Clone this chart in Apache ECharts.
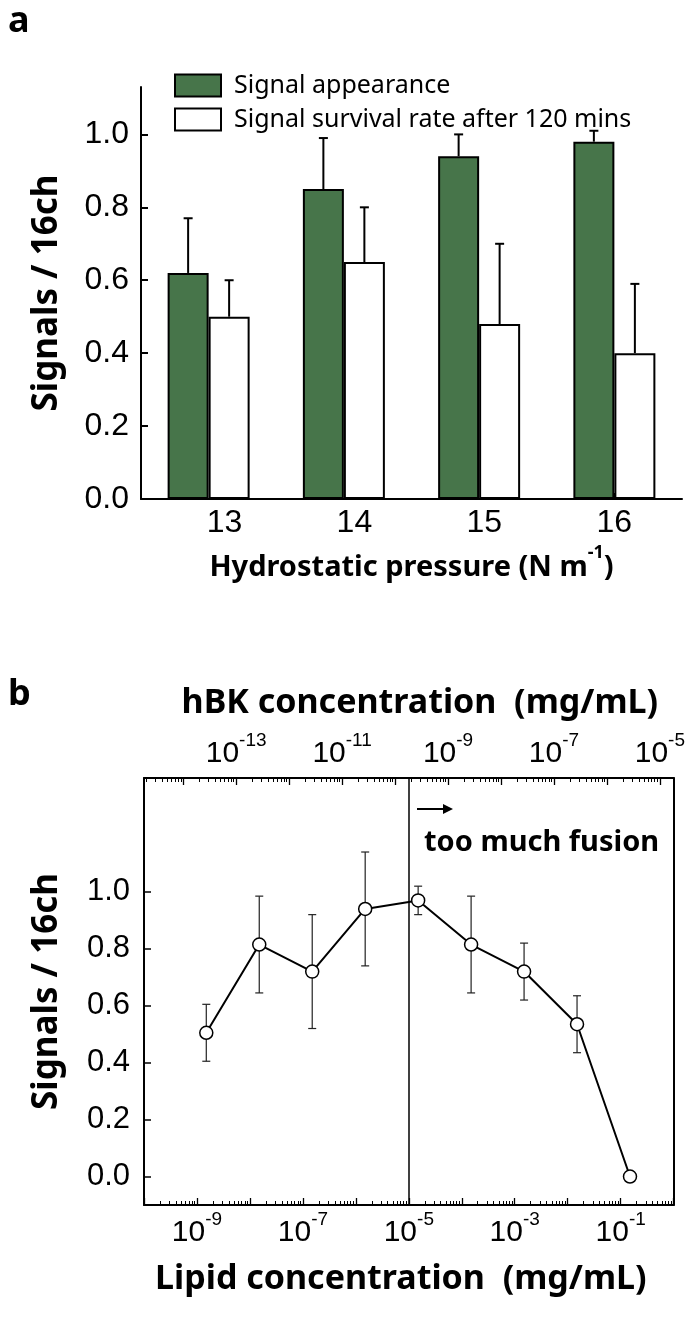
<!DOCTYPE html>
<html><head><meta charset="utf-8">
<script src="https://cdn.jsdelivr.net/npm/echarts@6/dist/echarts.min.js"></script>
<style>html,body{margin:0;padding:0;background:#fff}#c{width:688px;height:1318px}</style>
</head><body><div id="c"></div>
<script>
// ---------- Panel a data ----------
const pressures = ['13', '14', '15', '16'];
const pressureTicks = [13, 14, 15, 16];
const appearance = [0.62, 0.85, 0.94, 0.98];
const appearanceErr = [0.15, 0.14, 0.06, 0.03];
const survival = [0.50, 0.65, 0.48, 0.40];
const survivalErr = [0.10, 0.15, 0.22, 0.19];
const signalTicks = [0, 0.2, 0.4, 0.6, 0.8, 1.0];

// ---------- Panel b data ----------
const lipidConc = [1.5e-9, 1.5e-8, 1.5e-7, 1.5e-6, 1.5e-5, 1.5e-4, 1.5e-3, 1.5e-2, 1.5e-1];
const lipidSignals = [0.505, 0.815, 0.72, 0.94, 0.97, 0.815, 0.72, 0.535, 0.0];
const lipidErr = [0.10, 0.17, 0.20, 0.20, 0.05, 0.17, 0.10, 0.10, 0];
const lipidMajorExp = [-10, -9, -8, -7, -6, -5, -4, -3, -2, -1, 0];
const lipidLabelExp = [-9, -7, -5, -3, -1];
const hbkMajorExp = [-14, -13, -12, -11, -10, -9, -8, -7, -6, -5];
const hbkLabelExp = [-13, -11, -9, -7, -5];
const fusionLimit = 1e-5;
const lipidRange = [-10, 0];          // log10 mg/mL
const hbkRange = [-14.74, -4.74];     // log10 mg/mL

function minorLogTicks(lo, hi) {
  const out = [];
  for (let n = Math.floor(lo); n < Math.ceil(hi); n++) {
    for (let k = 2; k <= 9; k++) {
      const v = n + Math.log10(k);
      if (v > lo && v < hi) out.push(v);
    }
  }
  return out;
}

const TICKFONT = 'Liberation Sans, Arial, sans-serif';
const TITLEFONT = 'Noto Sans, Open Sans, sans-serif';
const BLACK = '#000';
const GREEN = '#47754a';

const supRich = {
  b: { fontSize: 30, fontFamily: TICKFONT, color: BLACK, lineHeight: 38, verticalAlign: 'bottom' },
  s: { fontSize: 19, fontFamily: TICKFONT, color: BLACK, lineHeight: 19, verticalAlign: 'top' }
};
const powLabel = v => '{b|10}{s|' + Math.round(v) + '}';

function errBarsA(offset) {
  return function (params, api) {
    const i = api.value(0), v = api.value(1), e = api.value(2);
    const p0 = api.coord([i, v]);
    const p1 = api.coord([i, v + e]);
    const x = p0[0] + offset;
    return {
      type: 'group',
      children: [
        { type: 'line', shape: { x1: x, y1: p0[1], x2: x, y2: p1[1] }, style: { stroke: BLACK, lineWidth: 2 } },
        { type: 'line', shape: { x1: x - 4.5, y1: p1[1], x2: x + 4.5, y2: p1[1] }, style: { stroke: BLACK, lineWidth: 2 } }
      ]
    };
  };
}

function errBarsB(params, api) {
  const x = api.value(0), y = api.value(1), e = api.value(2);
  if (!e) return null;
  const t = api.coord([x, y + e]);
  const b = api.coord([x, y - e]);
  const st = { stroke: '#222', lineWidth: 1.2 };
  return {
    type: 'group',
    children: [
      { type: 'line', shape: { x1: t[0], y1: t[1], x2: b[0], y2: b[1] }, style: st },
      { type: 'line', shape: { x1: t[0] - 4, y1: t[1], x2: t[0] + 4, y2: t[1] }, style: st },
      { type: 'line', shape: { x1: b[0] - 4, y1: b[1], x2: b[0] + 4, y2: b[1] }, style: st }
    ]
  };
}

const hiddenAxisBits = { axisLabel: { show: false }, axisTick: { show: false }, splitLine: { show: false } };

const option = {
  animation: false,
  backgroundColor: '#fff',
  grid: [
    { left: 141, top: 87, width: 541, height: 412, containLabel: false },
    { left: 144, top: 778, width: 531, height: 427, containLabel: false }
  ],
  legend: {
    data: ['Signal appearance', 'Signal survival rate after 120 mins'],
    orient: 'vertical', left: 174, top: 73, padding: 0,
    itemWidth: 46, itemHeight: 22, itemGap: 9,
    icon: 'rect',
    textStyle: { fontSize: 25, fontFamily: TITLEFONT, color: BLACK, padding: [0, 0, 0, 8] }
  },
  xAxis: [
    { // 0: categories for bars
      type: 'category', gridIndex: 0, data: pressures, position: 'bottom',
      axisLine: { show: true, onZero: false, lineStyle: { color: BLACK, width: 2 } },
      ...hiddenAxisBits
    },
    { // 1: label / tick axis for pressures
      type: 'value', gridIndex: 0, position: 'bottom', min: 12.357, max: 16.522,
      axisLine: { show: false, onZero: false },
      splitLine: { show: false },
      axisTick: { show: true, inside: true, length: 6, lineStyle: { color: BLACK, width: 2 }, customValues: pressureTicks },
      axisLabel: { show: true, customValues: pressureTicks, margin: 8, fontSize: 32, fontFamily: TICKFONT, color: BLACK },
      name: '{t|Hydrostatic pressure (N m}{s|-1}{t|)}',
      nameLocation: 'middle', nameGap: 45,
      nameTextStyle: {
        rich: {
          t: { fontSize: 29, fontWeight: 'bold', fontFamily: TITLEFONT, color: BLACK, lineHeight: 38, verticalAlign: 'bottom' },
          s: { fontSize: 18, fontWeight: 'bold', fontFamily: TITLEFONT, color: BLACK, lineHeight: 18, verticalAlign: 'top' }
        }
      }
    },
    { // 2: lipid major ticks + labels (bottom)
      type: 'value', gridIndex: 1, position: 'bottom', min: lipidRange[0], max: lipidRange[1],
      axisLine: { show: true, onZero: false, lineStyle: { color: BLACK, width: 2 } },
      splitLine: { show: false },
      axisTick: { show: true, inside: true, length: 7, lineStyle: { color: BLACK, width: 1.3 }, customValues: lipidMajorExp },
      axisLabel: { show: true, customValues: lipidLabelExp, margin: 5, formatter: powLabel, rich: supRich },
      name: 'Lipid concentration  (mg/mL)',
      nameLocation: 'middle', nameGap: 57,
      nameTextStyle: { fontSize: 34, fontWeight: 'bold', fontFamily: TITLEFONT, color: BLACK, padding: [0, 16, 0, 0] }
    },
    { // 3: lipid minor ticks
      type: 'value', gridIndex: 1, position: 'bottom', min: lipidRange[0], max: lipidRange[1],
      axisLine: { show: false, onZero: false }, splitLine: { show: false }, axisLabel: { show: false },
      axisTick: { show: true, inside: true, length: 4, lineStyle: { color: BLACK, width: 1 }, customValues: minorLogTicks(lipidRange[0], lipidRange[1]) }
    },
    { // 4: hBK major ticks + labels (top)
      type: 'value', gridIndex: 1, position: 'top', min: hbkRange[0], max: hbkRange[1],
      axisLine: { show: true, onZero: false, lineStyle: { color: BLACK, width: 2 } },
      splitLine: { show: false },
      axisTick: { show: true, inside: true, length: 7, lineStyle: { color: BLACK, width: 1.3 }, customValues: hbkMajorExp },
      axisLabel: { show: true, customValues: hbkLabelExp, margin: 9, formatter: powLabel, rich: supRich },
      name: 'hBK concentration  (mg/mL)',
      nameLocation: 'middle', nameGap: 58,
      nameTextStyle: { fontSize: 34, fontWeight: 'bold', fontFamily: TITLEFONT, color: BLACK, padding: [0, 0, 0, 22] }
    },
    { // 5: hBK minor ticks
      type: 'value', gridIndex: 1, position: 'top', min: hbkRange[0], max: hbkRange[1],
      axisLine: { show: false, onZero: false }, splitLine: { show: false }, axisLabel: { show: false },
      axisTick: { show: true, inside: true, length: 4, lineStyle: { color: BLACK, width: 1 }, customValues: minorLogTicks(hbkRange[0], hbkRange[1]) }
    }
  ],
  yAxis: [
    { // 0: panel a
      type: 'value', gridIndex: 0, min: 0, max: 1.13, position: 'left',
      axisLine: { show: true, onZero: false, lineStyle: { color: BLACK, width: 2 } },
      splitLine: { show: false },
      axisTick: { show: true, inside: true, length: 7, lineStyle: { color: BLACK, width: 2 }, customValues: signalTicks },
      axisLabel: { show: true, customValues: signalTicks, margin: 12, fontSize: 32, fontFamily: TICKFONT, color: BLACK, formatter: v => v.toFixed(1) },
      name: 'Signals / 16ch', nameLocation: 'middle', nameGap: 76,
      nameTextStyle: { fontSize: 35, fontWeight: 'bold', fontFamily: TITLEFONT, color: BLACK }
    },
    { // 1: panel b left
      type: 'value', gridIndex: 1, min: -0.1, max: 1.4, position: 'left',
      axisLine: { show: true, onZero: false, lineStyle: { color: BLACK, width: 2 } },
      splitLine: { show: false },
      axisTick: { show: true, inside: true, length: 7, lineStyle: { color: BLACK, width: 1.5 }, customValues: signalTicks },
      axisLabel: { show: true, customValues: signalTicks, margin: 14, fontSize: 31, fontFamily: TICKFONT, color: BLACK, formatter: v => v.toFixed(1) },
      name: 'Signals / 16ch', nameLocation: 'middle', nameGap: 79,
      nameTextStyle: { fontSize: 35, fontWeight: 'bold', fontFamily: TITLEFONT, color: BLACK }
    },
    { // 2: panel b right frame
      type: 'value', gridIndex: 1, min: -0.1, max: 1.4, position: 'right',
      axisLine: { show: true, onZero: false, lineStyle: { color: BLACK, width: 2 } },
      ...hiddenAxisBits
    }
  ],
  series: [
    {
      name: 'Signal appearance', type: 'bar', xAxisIndex: 0, yAxisIndex: 0,
      data: appearance, barWidth: 41, barGap: '0%',
      itemStyle: { color: GREEN, borderColor: BLACK, borderWidth: 2 }
    },
    {
      name: 'Signal survival rate after 120 mins', type: 'bar', xAxisIndex: 0, yAxisIndex: 0,
      data: survival, barWidth: 41, barGap: '0%',
      itemStyle: { color: '#fff', borderColor: BLACK, borderWidth: 2 }
    },
    {
      type: 'custom', xAxisIndex: 0, yAxisIndex: 0, z: 5,
      renderItem: errBarsA(-20.5),
      data: appearance.map((v, i) => [i, v, appearanceErr[i]])
    },
    {
      type: 'custom', xAxisIndex: 0, yAxisIndex: 0, z: 5,
      renderItem: errBarsA(20.5),
      data: survival.map((v, i) => [i, v, survivalErr[i]])
    },
    {
      type: 'custom', xAxisIndex: 2, yAxisIndex: 1, z: 3,
      renderItem: errBarsB,
      data: lipidConc.map((c, i) => [Math.log10(c), lipidSignals[i], lipidErr[i]])
    },
    {
      type: 'line', xAxisIndex: 2, yAxisIndex: 1, z: 6,
      data: lipidConc.map((c, i) => [Math.log10(c), lipidSignals[i]]),
      symbol: 'circle', symbolSize: 13,
      itemStyle: { color: '#fff', borderColor: BLACK, borderWidth: 1.5 },
      lineStyle: { color: BLACK, width: 2 },
      markLine: {
        silent: true, symbol: 'none', label: { show: false },
        lineStyle: { color: BLACK, width: 1.5, type: 'solid' },
        data: [{ xAxis: Math.log10(fusionLimit) }]
      }
    }
  ],
  graphic: [
    { type: 'text', left: 8, top: 4, style: { text: 'a', fontSize: 36, fontWeight: 'bold', fontFamily: TITLEFONT, fill: BLACK } },
    { type: 'text', left: 8, top: 677, style: { text: 'b', fontSize: 36, fontWeight: 'bold', fontFamily: TITLEFONT, fill: BLACK } },
    { type: 'line', shape: { x1: 417, y1: 809, x2: 450, y2: 809 }, style: { stroke: BLACK, lineWidth: 2 } },
    { type: 'polygon', shape: { points: [[453, 809], [443, 804], [443, 814]] }, style: { fill: BLACK } },
    { type: 'text', left: 424, top: 828, style: { text: 'too much fusion', fontSize: 29, fontWeight: 'bold', fontFamily: TITLEFONT, fill: BLACK } }
  ]
};

const chart = echarts.init(document.getElementById('c'), null, { renderer: 'canvas' });
chart.setOption(option);
</script>
</body></html>
